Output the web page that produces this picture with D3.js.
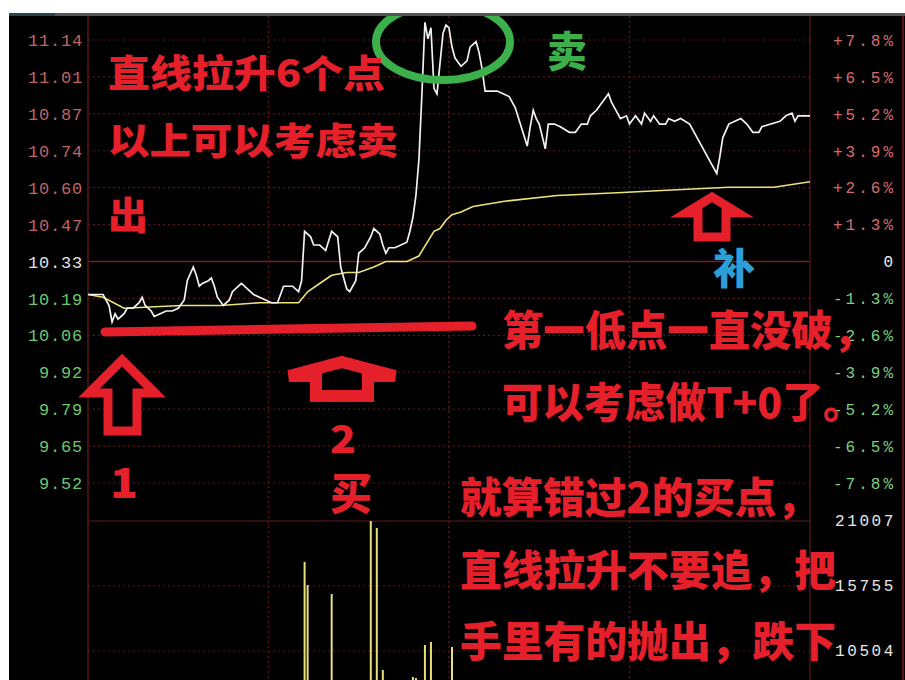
<!DOCTYPE html>
<html>
<head>
<meta charset="utf-8">
<script src="https://cdn.jsdelivr.net/npm/d3@7"></script>
<style>
  body { margin: 0; background: #fff; }
  svg { display: block; }
</style>
</head>
<body>
<div id="chart"></div>
<script>
var width = 905;
var height = 680;
var preClose = 10.33;

// price axis labels (left) and percent labels (right)
var priceTicks = ["11.14", "11.01", "10.87", "10.74", "10.60", "10.47", "10.33", "10.19", "10.06", "9.92", "9.79", "9.65", "9.52"];
var pctTicks = [7.8, 6.5, 5.2, 3.9, 2.6, 1.3, 0, -1.3, -2.6, -3.9, -5.2, -6.5, -7.8];
var volTicks = [21007, 15755, 10504];

// white price line, minute of the session and price
var priceMinutes = [0, 5, 7, 8, 9, 10, 12, 13, 15, 17, 18, 19, 21, 22, 24, 26, 28, 30, 32, 33, 35, 36, 37, 38, 40, 41, 42, 43, 45, 47, 48, 50, 51, 53, 55, 57, 59, 61, 63, 64, 65, 68, 70, 71, 72, 74, 75, 77, 79, 81, 83, 84, 86, 87, 89, 90, 92, 94, 95, 97, 98, 99, 100, 102, 104, 106, 107, 108, 109,
  110, 111, 112, 113, 114, 115, 116, 117, 118, 119, 120, 121, 122, 124, 126, 127, 129, 130, 131, 132, 134, 136, 138, 140, 142, 144, 146, 147, 148, 149, 150, 152, 153, 155, 157, 160, 162, 164, 166, 167, 169, 171, 173, 174, 177, 179, 180, 182, 184, 185, 187, 188, 190, 192, 193, 195, 197, 200, 201, 203, 205, 207, 209, 210, 211, 213, 215, 217, 219, 221, 223, 224, 227, 230, 232, 234, 235, 236, 240];
var prices = [10.21, 10.21, 10.17, 10.11, 10.14, 10.12, 10.14, 10.16, 10.16, 10.18, 10.20, 10.17, 10.15, 10.13, 10.14, 10.15, 10.15, 10.16, 10.19, 10.26, 10.31, 10.28, 10.24, 10.25, 10.26, 10.27, 10.24, 10.20, 10.17, 10.19, 10.22, 10.24, 10.25, 10.23, 10.21, 10.20, 10.19, 10.18, 10.18, 10.21, 10.24, 10.24, 10.22, 10.26, 10.44, 10.42, 10.39, 10.39, 10.37, 10.44, 10.42, 10.31, 10.23, 10.22, 10.26, 10.36, 10.38, 10.42, 10.45, 10.43, 10.39, 10.36, 10.38, 10.38, 10.39, 10.40, 10.44, 10.49, 10.57,
  10.70, 10.94, 11.20, 11.14, 11.18, 10.96, 10.94, 11.05, 11.16, 11.19, 11.18, 11.11, 11.07, 11.04, 11.06, 11.11, 11.13, 11.09, 11.03, 10.95, 10.95, 10.95, 10.94, 10.93, 10.89, 10.82, 10.75, 10.82, 10.88, 10.85, 10.83, 10.74, 10.83, 10.83, 10.82, 10.80, 10.80, 10.83, 10.83, 10.86, 10.88, 10.91, 10.94, 10.91, 10.85, 10.86, 10.83, 10.86, 10.83, 10.87, 10.84, 10.86, 10.83, 10.83, 10.85, 10.84, 10.85, 10.83, 10.81, 10.77, 10.73, 10.69, 10.65, 10.71, 10.78, 10.83, 10.84, 10.85, 10.83, 10.80, 10.80, 10.82, 10.83, 10.84, 10.86, 10.87, 10.84, 10.86, 10.86];

// yellow average price line
var avgMinutes = [0, 5, 12, 31, 44, 57, 70, 73, 77, 81, 86, 90, 95, 99, 106, 110, 115, 117, 119, 121, 124, 128, 139, 156, 176, 194, 213, 228, 240];
var avgPrices = [10.21, 10.20, 10.16, 10.17, 10.17, 10.18, 10.18, 10.22, 10.25, 10.28, 10.29, 10.29, 10.31, 10.33, 10.33, 10.35, 10.44, 10.45, 10.48, 10.50, 10.51, 10.53, 10.55, 10.57, 10.58, 10.59, 10.60, 10.60, 10.62];

// volume bars that reach into the visible part
var volMinutes = [72, 73, 81, 94, 96, 98, 108, 109, 112, 114, 121];
var volumes = [17700, 15830, 15110, 21000, 20440, 8970, 8400, 8320, 10990, 11230, 10830];

var red = "#e5202b";

var svg = d3.select("#chart")
    .append("svg")
    .attr("width", width)
    .attr("height", height);

var defs = svg.append("defs");
defs.append("clipPath").attr("id", "screen")
    .append("rect").attr("x", 9).attr("y", 16).attr("width", 896).attr("height", 664);

// scales
var x = d3.scaleLinear().domain([0, 240]).range([88, 810]);
var yPct = d3.scaleLinear().domain([-7.8, 7.8]).range([483, 40]);
var y = function(p) { return yPct((p / preClose - 1) * 100); };
var yVol = d3.scaleLinear().domain([0, 21007]).range([781, 521]);

// background
svg.append("rect").attr("x", 9).attr("y", 13).attr("width", 896).attr("height", 667).attr("fill", "#000");
svg.append("rect").attr("x", 9).attr("y", 13).attr("width", 896).attr("height", 3).attr("fill", "#555");
svg.append("rect").attr("x", 9).attr("y", 13).attr("width", 46).attr("height", 3).attr("fill", "#24464c");

var grid = svg.append("g").attr("clip-path", "url(#screen)");

// horizontal price grid
grid.selectAll(".hg")
    .data(pctTicks)
    .enter()
    .append("line")
    .attr("x1", 88).attr("x2", 810)
    .attr("y1", function(d) { return yPct(d); })
    .attr("y2", function(d) { return yPct(d); })
    .attr("stroke", function(d) { return d === 0 ? "#7a1e22" : "#5a1518"; })
    .attr("stroke-width", function(d) { return d === 0 ? 1.5 : 1.2; })
    .attr("stroke-dasharray", function(d) { return d === 0 ? null : "2,3"; });

// volume grid
grid.selectAll(".vg")
    .data(volTicks)
    .enter()
    .append("line")
    .attr("x1", 88).attr("x2", 810)
    .attr("y1", function(d) { return yVol(d); })
    .attr("y2", function(d) { return yVol(d); })
    .attr("stroke", function(d, i) { return i === 0 ? "#5e1a1e" : "#5a1518"; })
    .attr("stroke-width", 1.2)
    .attr("stroke-dasharray", function(d, i) { return i === 0 ? null : "2,3"; });

// vertical grid
grid.selectAll(".vx")
    .data([60, 120, 180])
    .enter()
    .append("line")
    .attr("x1", function(d) { return x(d); })
    .attr("x2", function(d) { return x(d); })
    .attr("y1", 16).attr("y2", 680)
    .attr("stroke", "#5a1518")
    .attr("stroke-width", 1.5)
    .attr("stroke-dasharray", "2,3");

// frame lines
[[88, "#5a171a"], [810, "#4e1216"], [903, "#7a1a1e"]].forEach(function(f) {
    grid.append("line")
        .attr("x1", f[0]).attr("x2", f[0]).attr("y1", 16).attr("y2", 680)
        .attr("stroke", f[1]).attr("stroke-width", 1.5);
});

// volume bars
grid.selectAll(".vol")
    .data(volMinutes)
    .enter()
    .append("line")
    .attr("x1", function(d) { return x(d); })
    .attr("x2", function(d) { return x(d); })
    .attr("y1", yVol(0))
    .attr("y2", function(d, i) { return yVol(volumes[i]); })
    .attr("stroke", "#e6df7c")
    .attr("stroke-width", 2);

// average line
var avgLine = d3.line()
    .x(function(d) { return x(d); })
    .y(function(d, i) { return y(avgPrices[i]); });
grid.append("path")
    .attr("d", avgLine(avgMinutes))
    .attr("fill", "none")
    .attr("stroke", "#ebe37a")
    .attr("stroke-width", 1.6);

// price line
var priceLine = d3.line()
    .x(function(d) { return x(d); })
    .y(function(d, i) { return y(prices[i]); });
grid.append("path")
    .attr("d", priceLine(priceMinutes))
    .attr("fill", "none")
    .attr("stroke", "#f2f2f2")
    .attr("stroke-width", 1.7);

// axis labels
var mono = "'Liberation Mono', 'DejaVu Sans Mono', monospace";
svg.selectAll(".pl")
    .data(priceTicks)
    .enter()
    .append("text")
    .attr("x", 83)
    .attr("y", function(d, i) { return yPct(pctTicks[i]); })
    .attr("dy", "0.36em")
    .attr("text-anchor", "end")
    .attr("font-family", mono)
    .attr("font-size", 17)
    .attr("letter-spacing", 0.8)
    .attr("fill", function(d, i) { return pctTicks[i] > 0 ? "#c06466" : pctTicks[i] < 0 ? "#6cc86c" : "#e2e2e2"; })
    .text(function(d) { return d; });

svg.selectAll(".pr")
    .data(pctTicks)
    .enter()
    .append("text")
    .attr("x", 896)
    .attr("y", function(d) { return yPct(d); })
    .attr("dy", "0.36em")
    .attr("text-anchor", "end")
    .attr("font-family", mono)
    .attr("font-size", 16)
    .attr("letter-spacing", 3)
    .attr("fill", function(d) { return d > 0 ? "#d86a6e" : d < 0 ? "#7ccf7c" : "#f0f0f0"; })
    .text(function(d) { return d === 0 ? "0" : (d > 0 ? "+" : "") + d.toFixed(1) + "%"; });

svg.selectAll(".vl")
    .data(volTicks)
    .enter()
    .append("text")
    .attr("x", 896)
    .attr("y", function(d) { return yVol(d) - 1; })
    .attr("dy", "0.36em")
    .attr("text-anchor", "end")
    .attr("font-family", mono)
    .attr("font-size", 16)
    .attr("letter-spacing", 2.6)
    .attr("fill", "#e8e8e8")
    .text(function(d) { return d; });

// annotations drawn on top
var notes = svg.append("g").attr("clip-path", "url(#screen)");

notes.append("ellipse")
    .attr("cx", 443).attr("cy", 42).attr("rx", 67).attr("ry", 38)
    .attr("fill", "none").attr("stroke", "#3cb04b").attr("stroke-width", 8);

notes.append("path")
    .attr("d", "M105,332 L472,326")
    .attr("stroke", red).attr("stroke-width", 9).attr("stroke-linecap", "round");

var arrows = [
    "M122,360 L155,393 L137,393 L137,431 L108,431 L108,393 L89,393 Z",
    "M342,362 L395,376 L368,376 L368,396 L316,396 L316,376 L289,376 Z",
    "M712,197 L738,213 L726,213 L726,237 L698,237 L698,213 L686,213 Z"
];
notes.selectAll(".arrow")
    .data(arrows)
    .enter()
    .append("path")
    .attr("d", function(d) { return d; })
    .attr("fill", "#000")
    .attr("stroke", red)
    .attr("stroke-width", function(d, i) { return i === 1 ? 12 : 9; })
    .attr("stroke-linejoin", "miter");

var cjk = "'Noto Sans CJK SC', 'Noto Sans', sans-serif";
var labels = [
    { t: "直线拉升6个点", x: 108, y: 87, s: 38, w: 277, c: red },
    { t: "以上可以考虑卖", x: 108, y: 155, s: 37, w: 290, c: red },
    { t: "出", x: 108, y: 229, s: 38, w: 40, c: red },
    { t: "卖", x: 547, y: 67, s: 42, w: 40, c: "#3cae4c" },
    { t: "补", x: 713, y: 284, s: 42, w: 42, c: "#2b9fd8" },
    { t: "1", x: 110, y: 498, s: 42, w: 28, c: red },
    { t: "2", x: 330, y: 453, s: 38, w: 26, c: red },
    { t: "买", x: 330, y: 510, s: 44, w: 42, c: red },
    { t: "第一低点一直没破，", x: 502, y: 346, s: 42, w: 372, c: red },
    { t: "可以考虑做T+0了。", x: 502, y: 418, s: 42, w: 362, c: red },
    { t: "就算错过2的买点，", x: 460, y: 513, s: 42, w: 358, c: red },
    { t: "直线拉升不要追，把", x: 460, y: 586, s: 42, w: 376, c: red },
    { t: "手里有的抛出，跌下", x: 460, y: 657, s: 42, w: 376, c: red }
];
notes.selectAll(".note")
    .data(labels)
    .enter()
    .append("text")
    .attr("x", function(d) { return d.x; })
    .attr("y", function(d) { return d.y; })
    .attr("font-family", cjk)
    .attr("font-weight", 900)
    .attr("font-size", function(d) { return d.s; })
    .attr("textLength", function(d) { return d.w; })
    .attr("lengthAdjust", "spacingAndGlyphs")
    .attr("fill", function(d) { return d.c; })
    .text(function(d) { return d.t; });
</script>
</body>
</html>
